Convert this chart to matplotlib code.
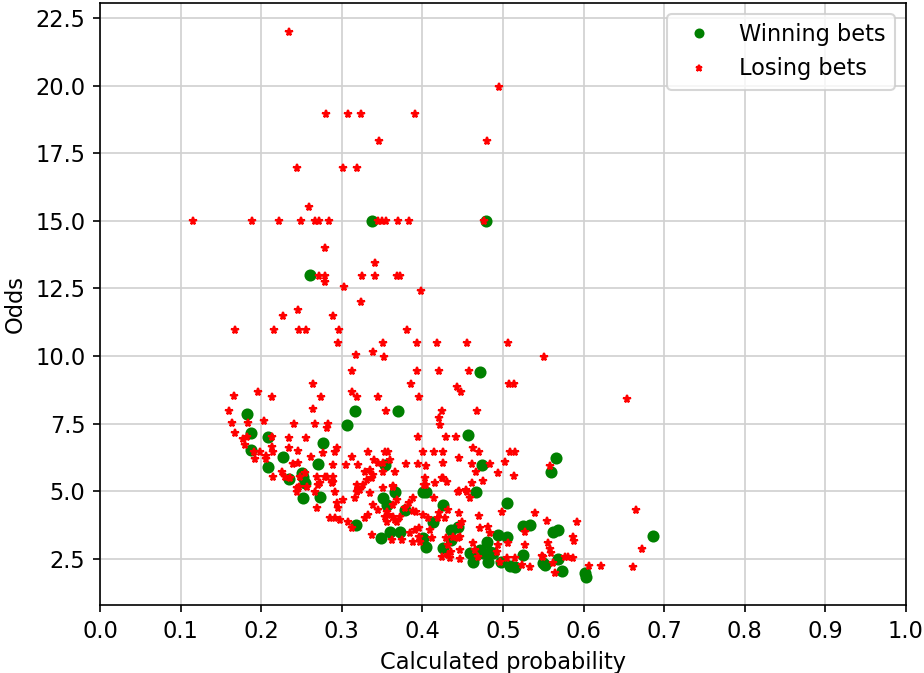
import matplotlib
matplotlib.use('Agg')
import matplotlib.pyplot as plt
from matplotlib.lines import Line2D

plt.rcParams['font.size'] = 10.8

# winning bets: (calculated probability, odds)
win_prob = [0.337, 0.479, 0.260, 0.4715, 0.182, 0.316, 0.370, 0.306, 0.187, 0.209,
            0.277, 0.456, 0.187, 0.227, 0.566, 0.559, 0.209, 0.270, 0.354, 0.4735,
            0.234, 0.250, 0.252, 0.254, 0.252, 0.273, 0.366, 0.401, 0.405, 0.467,
            0.351, 0.356, 0.378, 0.426, 0.5045, 0.318, 0.4135, 0.525, 0.5335, 0.5625,
            0.5686, 0.6856, 0.436, 0.4446, 0.372, 0.349, 0.360, 0.401, 0.405, 0.426,
            0.435, 0.494, 0.5045, 0.480, 0.484, 0.488, 0.4715, 0.4756, 0.459, 0.463,
            0.4817, 0.498, 0.5087, 0.515, 0.525, 0.550, 0.552, 0.5677, 0.5727, 0.6017,
            0.603]
win_odds = [15.0, 15.0, 13.0, 9.4, 7.85, 7.97, 7.97, 7.45, 7.15, 7.0,
            6.78, 7.08, 6.53, 6.28, 6.22, 5.72, 5.91, 6.0, 5.97, 5.97,
            5.47, 5.69, 5.54, 5.30, 4.74, 4.80, 4.99, 4.99, 4.99, 4.99,
            4.75, 4.50, 4.31, 4.50, 4.58, 3.76, 3.88, 3.73, 3.76, 3.49,
            3.57, 3.36, 3.57, 3.67, 3.49, 3.28, 3.51, 3.26, 2.96, 2.90,
            3.20, 3.39, 3.30, 3.14, 2.77, 2.71, 2.83, 2.71, 2.71, 2.40,
            2.40, 2.40, 2.24, 2.22, 2.65, 2.34, 2.28, 2.49, 2.07, 1.97,
            1.85]

# losing bets: (calculated probability, odds)
lose_prob = [0.2345, 0.4955, 0.281, 0.308, 0.3234, 0.3908, 0.3466, 0.4806, 0.244, 0.301,
             0.319, 0.2597,
             0.115, 0.188, 0.222, 0.2494, 0.2667, 0.2717, 0.2845, 0.3453, 0.3503, 0.3548,
             0.370, 0.3834, 0.4764,
             0.279, 0.341, 0.272, 0.279, 0.3246, 0.341, 0.369, 0.372, 0.279, 0.3027,
             0.398, 0.3234, 0.246, 0.2275, 0.2894,
             0.1675, 0.2159, 0.2473, 0.2553, 0.2969, 0.3804,
             0.2957, 0.3514, 0.3928, 0.4187, 0.4548, 0.5065,
             0.3176, 0.3382, 0.3524, 0.5509,
             0.3122, 0.3928, 0.4206, 0.458,
             0.2638, 0.3853, 0.5078, 0.5139, 0.4425, 0.4474, 0.3122, 0.1955,
             0.1663, 0.2137, 0.2738, 0.3184, 0.3453, 0.3962, 0.6543,
             0.2647, 0.3544, 0.1605, 0.4239, 0.4682, 0.421,
             0.1633, 0.184, 0.2035, 0.2407, 0.2667, 0.2824, 0.2812, 0.4218, 0.1675,
             0.178, 0.182, 0.18, 0.213, 0.2349, 0.2556, 0.395, 0.4288, 0.4412,
             0.213, 0.2349, 0.246, 0.2936, 0.2916, 0.2618, 0.191, 0.1985, 0.206, 0.215,
             0.1923, 0.206, 0.2762,
             0.2398, 0.246, 0.2894, 0.3052, 0.3205, 0.3329, 0.3122, 0.34, 0.3453, 0.3515,
             0.3598, 0.3536, 0.3577,
             0.401, 0.414, 0.426, 0.4632, 0.4702, 0.5087, 0.5149, 0.4456, 0.5025,
             0.3792, 0.395, 0.4045, 0.461, 0.4839, 0.4252, 0.5583,
             0.366, 0.3515, 0.4942, 0.514, 0.4665, 0.2253, 0.3288, 0.335, 0.339,
             0.4302, 0.4259, 0.4032, 0.402, 0.4156, 0.4238,
             0.4458, 0.455, 0.461, 0.4755,
             0.3638, 0.335, 0.3205, 0.3257, 0.2811, 0.2894, 0.2708,
             0.2141, 0.2295, 0.2357, 0.2481, 0.2543, 0.2688, 0.2792, 0.2894,
             0.3308, 0.337, 0.3184, 0.3226, 0.2473, 0.2564, 0.244, 0.244,
             0.3515, 0.4045, 0.4446, 0.4541, 0.459, 0.4144, 0.3878, 0.3837, 0.368, 0.3638,
             0.4982, 0.5397, 0.554, 0.592, 0.6646, 0.672, 0.6608, 0.6211, 0.607, 0.5335,
             0.523, 0.5645,
             0.581, 0.5872, 0.5864, 0.588, 0.5562, 0.5596, 0.5492, 0.5273, 0.5273, 0.515,
             0.4963, 0.5045,
             0.4839, 0.4817, 0.4942, 0.492, 0.4715, 0.463, 0.4653, 0.4467, 0.4467,
             0.432, 0.4239, 0.436, 0.4446, 0.4467, 0.4384, 0.4488, 0.4467, 0.4293, 0.432,
             0.421, 0.4197, 0.4281, 0.4094, 0.4115, 0.3962, 0.3908, 0.3846, 0.3962, 0.3742,
             0.3618, 0.3886, 0.397,
             0.4011, 0.4073, 0.3722, 0.366, 0.3577, 0.3878, 0.392, 0.3784, 0.3557, 0.432,
             0.4458, 0.4706,
             0.4342, 0.5624, 0.5769, 0.5583, 0.5066, 0.548, 0.4693,
             0.2688, 0.2854, 0.2916, 0.2978, 0.308, 0.3122, 0.3288, 0.3329, 0.2957, 0.2936,
             0.3018, 0.3184, 0.3164, 0.339, 0.3453, 0.3536, 0.3557, 0.3638, 0.368, 0.337,
             0.3638, 0.2873, 0.273, 0.2667, 0.2916]
lose_odds = [21.96, 19.96, 18.95, 18.95, 18.95, 18.95, 17.96, 17.96, 16.97, 16.97,
             16.97, 15.5,
             15.0, 15.0, 15.0, 15.0, 15.0, 15.0, 15.0, 15.0, 15.0, 15.0,
             15.0, 15.0, 15.0,
             13.99, 13.43, 12.96, 12.96, 12.96, 12.96, 12.96, 12.96, 12.75, 12.54,
             12.41, 12.0, 11.70, 11.48, 11.48,
             10.97, 10.97, 10.97, 10.97, 10.97, 10.97,
             10.47, 10.47, 10.47, 10.47, 10.47, 10.47,
             10.04, 10.14, 9.98, 9.98,
             9.46, 9.46, 9.46, 9.46,
             8.97, 8.97, 8.97, 8.97, 8.85, 8.66, 8.66, 8.66,
             8.53, 8.48, 8.48, 8.48, 8.48, 8.48, 8.42,
             8.03, 7.98, 7.98, 7.98, 7.98, 7.7,
             7.54, 7.54, 7.61, 7.48, 7.48, 7.48, 7.33, 7.45, 7.17,
             6.92, 7.02, 6.71, 7.0, 6.98, 6.98, 7.0, 7.0, 7.0,
             6.65, 6.59, 6.49, 6.59, 6.47, 6.26, 6.47, 6.47, 6.31, 6.47,
             6.18, 6.18, 6.41,
             6.0, 6.04, 5.97, 5.97, 5.97, 6.47, 6.26, 6.16, 6.04, 6.04,
             6.16, 6.47, 6.47,
             6.47, 6.47, 6.47, 6.61, 6.47, 6.47, 6.47, 6.24, 6.07,
             6.0, 6.0, 5.94, 6.0, 6.0, 6.06, 5.94,
             5.73, 5.71, 5.67, 5.58, 5.73, 5.73, 5.73, 5.79, 5.6,
             5.36, 5.48, 5.48, 5.24, 5.3, 5.48,
             5.03, 4.99, 5.3, 5.4,
             5.17, 4.93, 5.05, 5.24, 5.54, 5.36, 5.24,
             5.54, 5.54, 5.48, 5.54, 5.67, 5.54, 5.54, 5.54,
             5.42, 5.48, 5.24, 5.05, 5.17, 5.17, 4.99, 5.11,
             5.11, 5.24, 4.99, 5.05, 4.74, 4.74, 4.74, 4.56, 4.68, 4.5,
             4.25, 4.19, 3.92, 3.88, 4.31, 2.87, 2.19, 2.24, 2.24, 2.19,
             2.28, 2.0,
             2.59, 2.53, 3.3, 3.18, 3.1, 2.71, 2.59, 3.51, 3.02, 2.53,
             2.4, 2.53,
             3.45, 3.69, 3.02, 2.77, 3.63, 3.08, 2.83, 2.83, 2.49,
             2.65, 2.59, 2.77, 3.26, 3.33, 3.33, 3.88, 3.76, 3.26, 3.02,
             4.19, 4.03, 4.0, 3.57, 3.26, 3.63, 3.57, 3.45, 3.33, 3.2,
             3.2, 3.14, 3.14,
             4.13, 4.0, 4.06, 3.94, 4.13, 4.27, 4.25, 4.37, 4.25, 4.31,
             4.21, 4.09,
             2.53, 2.34, 2.59, 2.86, 3.08, 2.61, 2.59,
             4.37, 4.0, 4.0, 3.94, 3.88, 3.63, 4.0, 4.13, 4.37, 4.56,
             4.68, 4.99, 4.74, 4.5, 4.31, 4.06, 3.88, 4.06, 3.88, 3.39,
             5.2, 5.3, 5.30, 4.99, 4.99]

fig = plt.figure(figsize=(924 / 150, 673 / 150), dpi=150)
ax = fig.add_axes([100 / 924, 1 - 605 / 673, 806 / 924, 602 / 673])

ax.plot(win_prob, win_odds, 'o', color='green', markersize=4.8, label='Winning bets')
ax.plot(lose_prob, lose_odds, '*', color='red', markersize=3.9, label='Losing bets')

ax.set_xlim(0, 1.0)
ax.set_ylim(0.8, 23.05)
ax.set_xticks([i / 10 for i in range(11)])
ax.set_yticks([2.5, 5.0, 7.5, 10.0, 12.5, 15.0, 17.5, 20.0, 22.5])
ax.grid(True, color='#d0d0d0', linewidth=0.8)
ax.set_axisbelow(True)
ax.set_xlabel('Calculated probability')
ax.set_ylabel('Odds')

handles = [Line2D([], [], marker='o', ls='', color='green', markersize=3.8),
           Line2D([], [], marker='*', ls='', color='red', markersize=3.0)]
ax.legend(handles, ['Winning bets', 'Losing bets'], loc='upper right')

fig.savefig('out.png', dpi=150)
